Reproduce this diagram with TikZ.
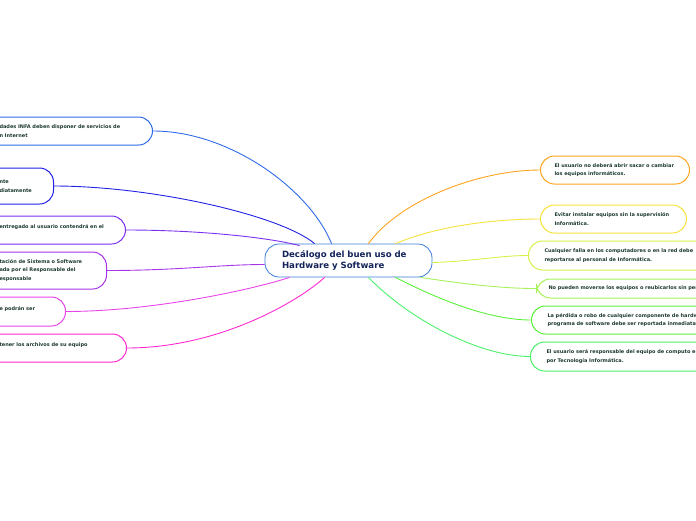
\documentclass[tikz,border=0pt]{standalone}
\usepackage{fontspec}
\setmainfont{DejaVu Sans}
\usepackage{xcolor}
\definecolor{textdk}{HTML}{1E3A2E}
\definecolor{navy}{HTML}{14245A}
\definecolor{cmain}{HTML}{3B7DD8}
\definecolor{cla}{HTML}{2F6BEA}
\definecolor{clb}{HTML}{2222E6}
\definecolor{clc}{HTML}{7B2FF0}
\definecolor{cld}{HTML}{A634E8}
\definecolor{cle}{HTML}{E845E8}
\definecolor{clf}{HTML}{FF2ACF}
\definecolor{cra}{HTML}{FFA41F}
\definecolor{crb}{HTML}{F5E23A}
\definecolor{crc}{HTML}{D6F24A}
\definecolor{crd}{HTML}{A8F25A}
\definecolor{cre}{HTML}{5CF03A}
\definecolor{crf}{HTML}{4DF06A}

\begin{document}
\begin{tikzpicture}[x=1pt, y=-1pt,
		branch/.style={draw, line width=1pt, fill=white, rounded corners=14pt,
			inner xsep=14pt, inner ysep=2pt, align=left, text=textdk,
			font=\fontsize{5.0}{8.6}\selectfont\bfseries},
		leftbox/.style={branch, anchor=east},
		rightbox/.style={branch, anchor=west},
		link/.style={line width=0.9pt}]
			\useasboundingbox (0,0) rectangle (696,520);
			\clip (0,0) rectangle (696,520);
			% Zentrum
			\node[draw=cmain, line width=0.8pt, fill=white, rounded corners=14pt,
			minimum width=167pt, minimum height=33pt, text width=133pt, align=left, text=navy,
			font=\fontsize{8.6}{11.5}\selectfont\bfseries] (c) at (348.5,260.5) {
				Dec\'alogo del buen uso de\\
				Hardware y Software
			};
			% linke Seite
			\node[leftbox, draw=cla, minimum height=28pt, text width=139pt] (la) at (153,131) {
				dades INFA deben disponer de servicios de\\n Internet};
			\node[leftbox, draw=clb, minimum height=36pt, text width=40pt] (lb) at (54,186) {
				nte\\diatamente};
			\node[leftbox, draw=clc, minimum height=28pt, text width=112pt] (lc) at (126,230) {
				entregado al usuario contendr\'a en el\\[-2pt]\mbox{}};
			\node[leftbox, draw=cld, minimum height=37pt, text width=93pt] (ld) at (107,270.5) {
				taci\'on de Sistema o Software\\ada por el Responsable del\\esponsable};
			\node[leftbox, draw=cle, minimum height=29pt, text width=52pt] (le) at (66,311.5) {
				e podr\'an ser\\[-2pt]\mbox{}};
			\node[leftbox, draw=clf, minimum height=28pt, text width=113pt] (lf) at (127,348) {
				tener los archivos de su equipo\\[-2pt]\mbox{}};
			% rechte Seite
			\node[rightbox, draw=cra, minimum height=28pt, text width=121pt] (ra) at (540,170) {
				El usuario no deber\'a abrir sacar o cambiar\\los equipos inform\'aticos.};
			\node[rightbox, draw=crb, minimum height=28pt, text width=118pt] (rb) at (540,219) {
				Evitar instalar equipos sin la supervisi\'on\\Inform\'atica.};
			\node[rightbox, draw=crc, minimum height=29pt, text width=200pt, inner xsep=16pt] (rc) at (528,255.5) {
				Cualquier falla en los computadores o en la red debe\\reportarse al personal de Inform\'atica.};
			\node[rightbox, draw=crd, minimum height=19pt, text width=200pt, inner xsep=12pt] (rd) at (536,288.5) {
				No pueden moverse los equipos o reubicarlos sin per};
			\node[rightbox, draw=cre, minimum height=28pt, text width=200pt, inner xsep=16pt] (re) at (531,320) {
				La p\'erdida o robo de cualquier componente de hardw\\programa de software debe ser reportada inmediatar};
			\node[rightbox, draw=crf, minimum height=29pt, text width=200pt, inner xsep=16pt] (rf) at (530,356.5) {
				El usuario ser\'a responsable del equipo de computo en\\por Tecnolog\'ia Inform\'atica.};
			% Verbindungen
			\draw[link, cla] (la.east) .. controls +(77,0) and +(-22,-54) .. ([xshift=67pt]c.north west);
			\draw[link, clb] (lb.east) .. controls +(96,0) and +(-35,-29) .. ([xshift=50pt]c.north west);
			\draw[link, clc] (lc.east) .. controls +(74,0) and +(-30,-8) .. ([xshift=35pt,yshift=-2pt]c.north west);
			\draw[link, cld] (ld.east) .. controls +(73,0) and +(-45,0) .. ([yshift=-4pt]c.west);
			\draw[link, cle] (le.east) .. controls +(84,0) and +(-40,13) .. ([xshift=25pt]c.south west);
			\draw[link, clf] (lf.east) .. controls +(93,0) and +(-25,23) .. ([xshift=60pt]c.south west);
			\draw[link, cra] ([xshift=-64pt]c.north east) .. controls +(32,-44) and +(-60,0) .. (ra.west);
			\draw[link, crb] ([xshift=-37pt]c.north east) .. controls +(45,-19) and +(-40,0) .. (rb.west);
			\draw[link, crc] ([yshift=-2pt]c.east) .. controls +(38,-1) and +(-28,0) .. (rc.west);
			\draw[link, crd] ([xshift=-12pt]c.south east) .. controls +(40,6) and +(-36,0) .. (rd.west);
			\draw[link, cre] ([xshift=-37pt]c.south east) .. controls +(45,23) and +(-41,0) .. (re.west);
			\draw[link, crf] ([xshift=-64pt]c.south east) .. controls +(42,43) and +(-50,0) .. (rf.west);
		\end{tikzpicture}
\end{document}
